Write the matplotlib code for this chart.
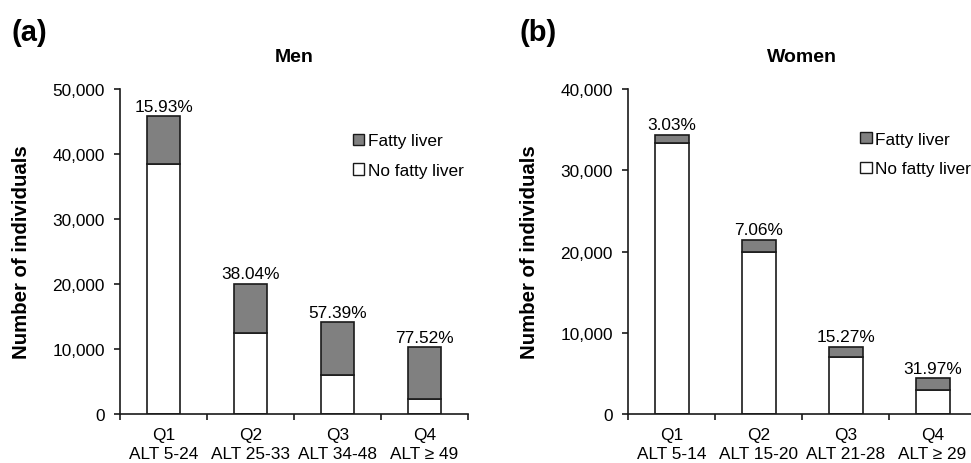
import matplotlib
matplotlib.use("Agg")
import matplotlib.pyplot as plt
from matplotlib.patches import Patch
from matplotlib.ticker import FuncFormatter

plt.rcParams['font.family'] = ['Liberation Sans', 'DejaVu Sans']

# data
men_groups = ["Q1\nALT 5-24", "Q2\nALT 25-33", "Q3\nALT 34-48", "Q4\nALT \u2265 49"]
men_no_fatty = [38500, 12420, 6010, 2310]
men_fatty = [7300, 7630, 8090, 7950]
men_pct = ["15.93%", "38.04%", "57.39%", "77.52%"]

women_groups = ["Q1\nALT 5-14", "Q2\nALT 15-20", "Q3\nALT 21-28", "Q4\nALT \u2265 29"]
women_no_fatty = [33360, 19940, 7030, 2990]
women_fatty = [1040, 1510, 1270, 1400]
women_pct = ["3.03%", "7.06%", "15.27%", "31.97%"]

FS = 12.4
LINE = "#1a1a1a"
GRAY = "#808080"


def panel(ax, groups, no_fatty, fatty, pct, ymax, title, leg_x, leg_y):
    x = list(range(len(groups)))
    ax.bar(x, no_fatty, width=0.39, color="white", edgecolor=LINE, linewidth=1.2)
    ax.bar(x, fatty, width=0.39, bottom=no_fatty, color=GRAY, edgecolor=LINE, linewidth=1.2)
    for xi, nf, f, p in zip(x, no_fatty, fatty, pct):
        ax.annotate(p, (xi, nf + f), xytext=(0, 2), textcoords="offset points",
                    ha="center", va="bottom", fontsize=FS)
    ax.set_xlim(-0.5, len(groups) - 0.5)
    ax.set_ylim(0, ymax)
    ax.set_yticks(range(0, ymax + 1, 10000))
    ax.yaxis.set_major_formatter(FuncFormatter(lambda v, _: f"{int(v):,}"))
    ax.set_xticks([i - 0.5 for i in range(len(groups) + 1)])
    ax.set_xticklabels([])
    ax.set_xticks(x, minor=True)
    ax.set_xticklabels(groups, minor=True, fontsize=FS, linespacing=1.35)
    ax.tick_params(axis="x", which="minor", length=0, pad=9)
    ax.tick_params(axis="x", which="major", length=4, width=1.2, color=LINE)
    ax.tick_params(axis="y", length=4, width=1.2, color=LINE, labelsize=FS, pad=7)
    for s in ("top", "right"):
        ax.spines[s].set_visible(False)
    for s in ("left", "bottom"):
        ax.spines[s].set_color(LINE)
        ax.spines[s].set_linewidth(1.2)
    ax.set_ylabel("Number of individuals", fontsize=14.7, fontweight="bold")
    ax.yaxis.set_label_coords(-0.255, 0.5)
    ax.text(0.5, 1.10, title, transform=ax.transAxes, ha="center", va="center",
            fontsize=14, fontweight="bold")
    handles = [Patch(facecolor=GRAY, edgecolor=LINE, linewidth=1.0),
               Patch(facecolor="white", edgecolor=LINE, linewidth=1.0)]
    ax.legend(handles, ["Fatty liver", "No fatty liver"], loc="center left",
              bbox_to_anchor=(leg_x, leg_y), frameon=False, fontsize=FS,
              handlelength=0.65, handleheight=0.65, handletextpad=0.2,
              labelspacing=0.85, borderpad=0)


fig = plt.figure(figsize=(9.71, 4.64), dpi=100)
ax1 = fig.add_axes([0.1236, 0.1056, 0.3584, 0.7004])
ax2 = fig.add_axes([0.6468, 0.1056, 0.3584, 0.7004])

panel(ax1, men_groups, men_no_fatty, men_fatty, men_pct, 50000, "Men", 0.645, 0.795)
panel(ax2, women_groups, women_no_fatty, women_fatty, women_pct, 40000, "Women", 0.643, 0.80)

fig.text(0.012, 1 - 33 / 464, "(a)", fontsize=21, fontweight="bold", va="center")
fig.text(0.535, 1 - 33 / 464, "(b)", fontsize=21, fontweight="bold", va="center")

fig.savefig("out.png", dpi=100)
